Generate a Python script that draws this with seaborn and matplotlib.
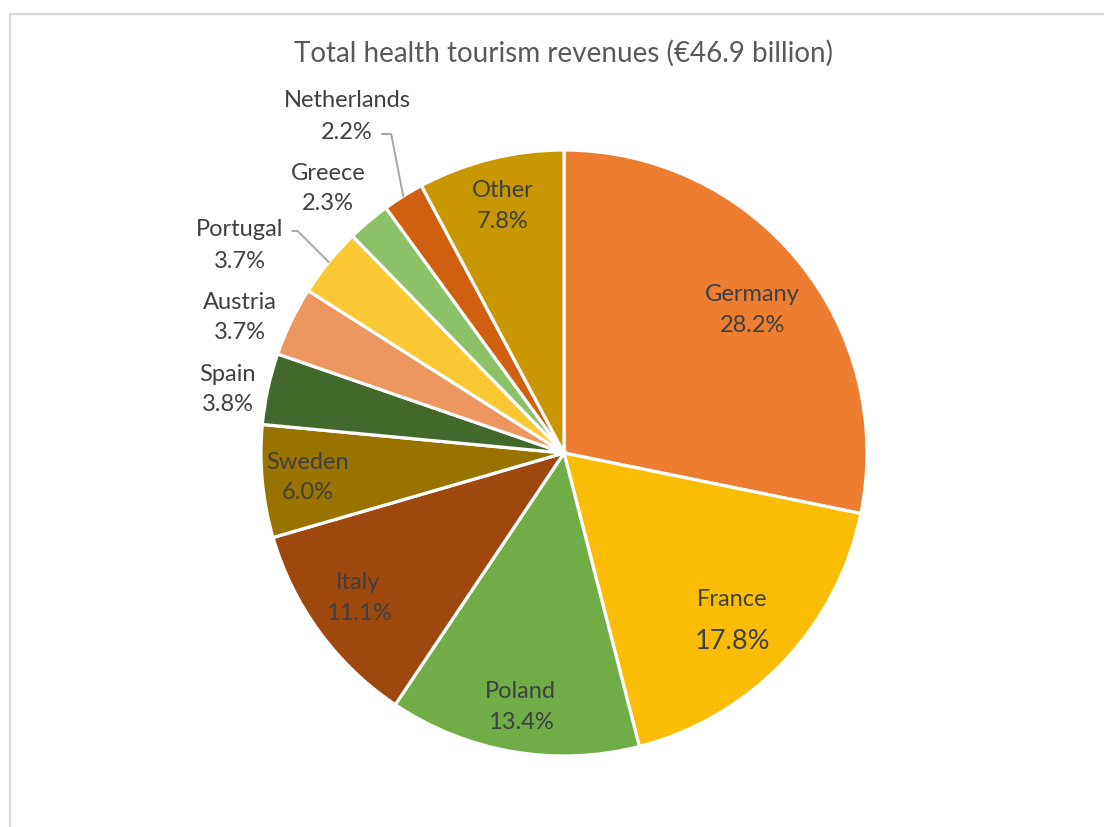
import matplotlib
matplotlib.use("Agg")
import matplotlib.pyplot as plt
import seaborn as sns
import numpy as np
from matplotlib.patches import Rectangle

# ---------------- data ----------------
title = "Total health tourism revenues (€46.9 billion)"
countries = ["Germany", "France", "Poland", "Italy", "Sweden", "Spain",
             "Austria", "Portugal", "Greece", "Netherlands", "Other"]
shares = [28.2, 17.8, 13.4, 11.1, 6.0, 3.8, 3.7, 3.7, 2.3, 2.2, 7.8]
slice_colors = ["#ED7D31", "#FBBC06", "#70AD47", "#9E480E", "#997300",
                "#43682B", "#EE9660", "#FAC832", "#8CC168", "#D0600F", "#C89700"]

# label placement style (radius factor, angular nudge in degrees)
label_radius = [0.78, 0.78, 0.85, 0.83, 0.85, 1.13, 1.16, 1.27, 1.17, 1.32, 0.84]
label_nudge = [-2, -1, 0, -1, 0, 1.6, 3.1, 6.5, 1.6, 0.8, 0]
# leader lines: slice index -> (label row carrying the line, angle of last segment)
leaders = {7: (0, -45), 9: (1, 101)}

sns.set_theme(style="white")
plt.rcParams["font.family"] = ["Lato", "DejaVu Sans"]

W, H = 1104, 827
fig = plt.figure(figsize=(W / 100, H / 100), dpi=100)
fig.patch.set_facecolor("white")

# light gray chart frame
fig.patches.append(Rectangle((10 / W, -0.05), 1.2, 1 - 14 / H + 0.05,
                             transform=fig.transFigure, fill=False,
                             edgecolor="#d9d9d9", linewidth=1.6))

cx, cy, R = 564, 453, 303
ax = fig.add_axes([(cx - R) / W, 1 - (cy + R) / H, 2 * R / W, 2 * R / H])
wedges, _ = ax.pie(shares, colors=slice_colors, startangle=90, counterclock=False,
                   radius=1.0,
                   wedgeprops=dict(edgecolor="white", linewidth=2.3))
ax.set_xlim(-1, 1)
ax.set_ylim(-1, 1)
ax.set_aspect("equal")
ax.axis("off")

txt_color = "#404040"
fs = 17
half_row = 16 / R   # half the label line spacing, in axes units

for i, (w, name, val) in enumerate(zip(wedges, countries, shares)):
    mid_deg = (w.theta1 + w.theta2) / 2
    mid = np.deg2rad(mid_deg + label_nudge[i])
    r = label_radius[i]
    x, y = r * np.cos(mid), r * np.sin(mid)
    pct = f"{val:.1f}%"
    if name == "France":
        ax.text(x, y + 0.065, name, ha="center", va="center", fontsize=fs, color=txt_color)
        ax.text(x, y - 0.075, pct, ha="center", va="center", fontsize=19.5,
                color=txt_color)
    elif i in leaders:
        row, angB = leaders[i]
        rows = [name, pct]
        ys = [y + half_row, y - half_row]
        m = np.deg2rad(mid_deg)
        for k in range(2):
            if k == row:
                ax.annotate(rows[k], xy=(np.cos(m), np.sin(m)), xytext=(x, ys[k]),
                            ha="center", va="center", fontsize=fs, color=txt_color,
                            arrowprops=dict(arrowstyle="-", color="#a6a6a6", lw=1.4,
                                            shrinkA=4, shrinkB=0, relpos=(1.0, 0.45),
                                            connectionstyle=f"angle,angleA=0,angleB={angB},rad=0"))
            else:
                ax.text(x, ys[k], rows[k], ha="center", va="center", fontsize=fs,
                        color=txt_color)
    else:
        ax.text(x, y, f"{name}\n{pct}", ha="center", va="center", fontsize=fs,
                color=txt_color, linespacing=1.55)

fig.text(cx / W, 1 - 53 / H, title, ha="center", va="center", fontsize=20, color="#595959")

fig.savefig("out.png", dpi=100, facecolor="white")
